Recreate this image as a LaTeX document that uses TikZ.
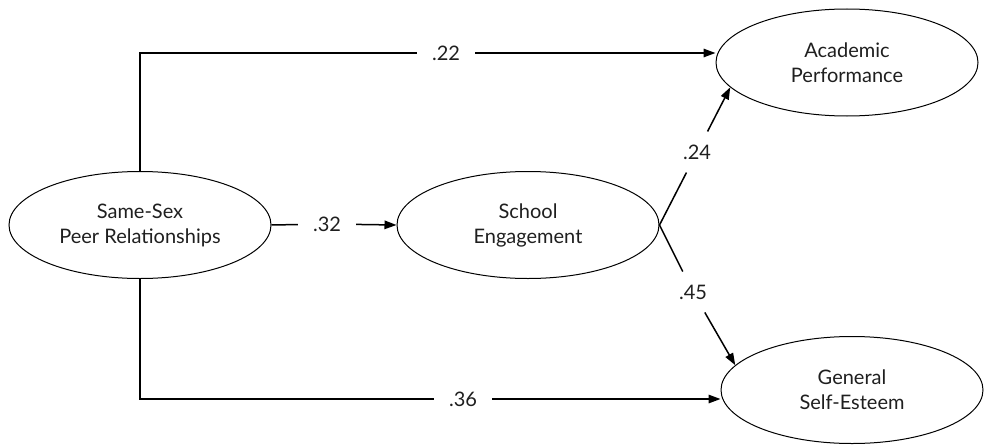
\documentclass[tikz,border=0pt]{standalone}
\usepackage{fontspec}
\setmainfont{Lato}
\usetikzlibrary{shapes.geometric,arrows.meta}
\begin{document}
\begin{tikzpicture}[x=1pt,y=-1pt,
  font=\fontsize{20}{25}\selectfont,
  latent/.style={draw, ellipse, line width=1pt, minimum width=262pt, minimum height=107pt, inner sep=0pt, align=center, text=black!88},
  coef/.style={fill=white, inner xsep=15pt, inner ysep=3pt, text=black!88},
  slcoef/.style={inner xsep=2pt, inner ysep=13pt, text=black!88},
  path/.style={line width=1.5pt},
  arr/.style={path, -{Triangle[length=12pt,width=8.5pt]}}]
\useasboundingbox (0,0) rectangle (984,444);
\node[latent] (peer) at (140,225) {Same-Sex\\Peer Relationships};
\node[latent] (school) at (528,225) {School\\Engagement};
\node[latent] (acad) at (847,62.5) {Academic\\Performance};
\node[latent] (self) at (852,390) {General\\Self-Esteem};
\node[coef] (l22) at (446,53) {.22};
\node[coef] (l32) at (327,224) {.32};
\node[coef] (l36) at (463,399) {.36};
\node[slcoef] (l24) at (697,152) {.24};
\node[slcoef] (l45) at (693,292) {.45};
\draw[path] (peer.north) |- (l22);
\draw[arr] (l22) -- (l22 -| acad.west);
\draw[path] (peer.south) |- (l36);
\draw[arr] (l36) -- (l36 -| self.west);
\draw[path] (peer.east) -- (l32);
\draw[arr] (l32) -- (school.west);
\draw[path] (school.east) -- (l24);
\draw[arr] (l24) -- (acad.192);
\draw[path] (school.east) -- (l45);
\draw[arr] (l45) -- (self.168);
\end{tikzpicture}
\end{document}
